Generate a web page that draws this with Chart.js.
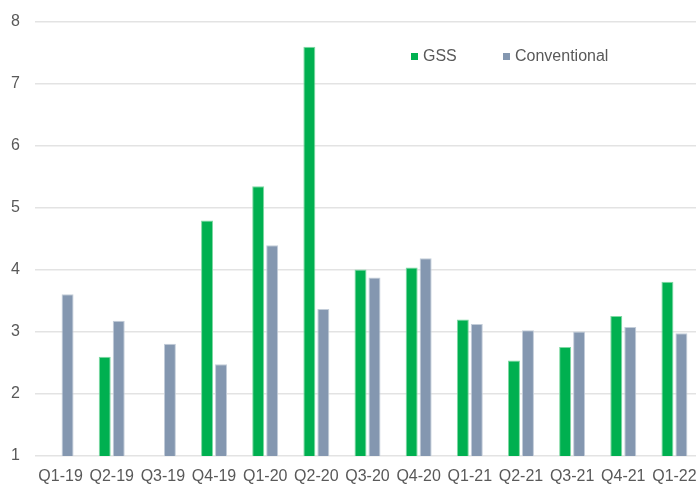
<!DOCTYPE html>
<html>
<head>
<meta charset="utf-8">
<script src="https://cdn.jsdelivr.net/npm/chart.js@4"></script>
<style>
    html, body { margin: 0; padding: 0; background: #fff; overflow: hidden; }
    canvas { display: block; }
</style>
</head>
<body>
<canvas id="issuanceChart" width="700" height="484"></canvas>
<script>
const quarters = ['Q1-19', 'Q2-19', 'Q3-19', 'Q4-19', 'Q1-20', 'Q2-20', 'Q3-20', 'Q4-20', 'Q1-21', 'Q2-21', 'Q3-21', 'Q4-21', 'Q1-22'];
const gssValues = [null, 2.60, null, 4.80, 5.35, 7.60, 4.01, 4.04, 3.20, 2.54, 2.76, 3.26, 3.81];
const conventionalValues = [3.61, 3.18, 2.81, 2.48, 4.40, 3.37, 3.88, 4.19, 3.13, 3.03, 3.01, 3.08, 2.98];
const yTicks = [1, 2, 3, 4, 5, 6, 7, 8];

const textColor = '#595959';
const font = { family: 'Arial, "Liberation Sans", sans-serif', size: 16 };

// legend drawn inside the plot, top right
const insideLegend = {
    id: 'insideLegend',
    afterDraw(chart) {
        const ctx = chart.ctx;
        const spots = [411, 503];
        ctx.save();
        ctx.font = '16px ' + font.family;
        ctx.textBaseline = 'middle';
        chart.data.datasets.forEach((ds, i) => {
            ctx.fillStyle = ds.backgroundColor;
            ctx.fillRect(spots[i], 53, 7, 7);
            ctx.fillStyle = textColor;
            ctx.fillText(ds.label, spots[i] + 12, 57);
        });
        ctx.restore();
    }
};

const ctx = document.getElementById('issuanceChart').getContext('2d');
new Chart(ctx, {
    type: 'bar',
    data: {
        labels: quarters,
        datasets: [
            {
                label: 'GSS',
                data: gssValues,
                backgroundColor: '#00b050',
                borderColor: '#7fd9a3',
                borderWidth: 1,
                categoryPercentage: 0.547,
                barPercentage: 0.857
            },
            {
                label: 'Conventional',
                data: conventionalValues,
                backgroundColor: '#8497b0',
                borderColor: '#c3cdd9',
                borderWidth: 1,
                categoryPercentage: 0.547,
                barPercentage: 0.857
            }
        ]
    },
    options: {
        responsive: false,
        animation: false,
        layout: { padding: { top: 22, right: 0, bottom: 0, left: 0 } },
        plugins: {
            legend: { display: false },
            tooltip: { enabled: false }
        },
        scales: {
            x: {
                afterFit(scale) {
                    scale.height = 28;
                    scale.paddingLeft = 0;
                    scale.paddingRight = 0;
                },
                grid: { display: false, drawTicks: false },
                border: { display: false },
                ticks: { color: textColor, font: font, padding: 11, maxRotation: 0, autoSkip: false }
            },
            y: {
                min: yTicks[0],
                max: yTicks[yTicks.length - 1],
                afterFit(scale) {
                    scale.width = 35;
                    scale.paddingTop = 0;
                    scale.paddingBottom = 0;
                },
                afterBuildTicks(scale) { scale.ticks = yTicks.map(v => ({ value: v })); },
                grid: { color: '#e3e3e3', lineWidth: 1.5, drawTicks: false },
                border: { display: false },
                ticks: { color: textColor, font: font, padding: 15 }
            }
        }
    },
    plugins: [insideLegend]
});
</script>
</body>
</html>
